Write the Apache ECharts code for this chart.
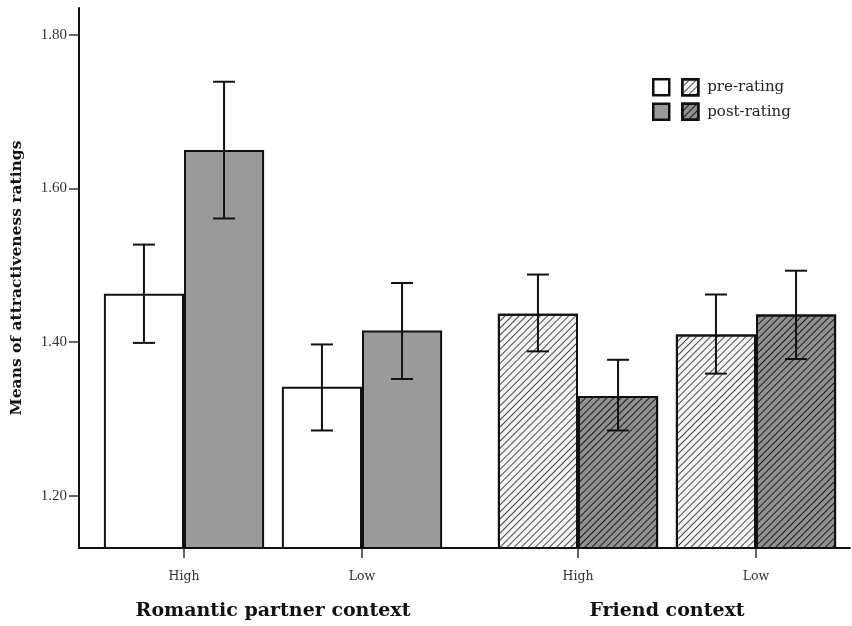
<!DOCTYPE html>
<html>
<head>
<meta charset="utf-8">
<script src="https://cdn.jsdelivr.net/npm/echarts@6/dist/echarts.min.js"></script>
<style>html,body{margin:0;padding:0;background:#fff}#c{width:852px;height:626px}</style>
</head>
<body>
<div id="c"></div>
<script>
// ---- data ----
var categories = ['High', 'Low'];
var groupNames = ['Romantic partner context', 'Friend context'];
var yTicks = [1.2, 1.4, 1.6, 1.8];
var romanticPre = [1.463, 1.342];
var romanticPreErr = [[1.399, 1.527], [1.285, 1.397]];
var romanticPost = [1.650, 1.415];
var romanticPostErr = [[1.561, 1.739], [1.352, 1.477]];
var friendPre = [1.437, 1.410];
var friendPreErr = [[1.388, 1.488], [1.359, 1.462]];
var friendPost = [1.330, 1.436];
var friendPostErr = [[1.285, 1.377], [1.378, 1.493]];

var SERIF = '"Liberation Serif", "Times New Roman", serif';
var WIDE = '"DejaVu Serif", serif';
var Y_MIN = 1.132, Y_MAX = 1.835;

function hatch(col) {
  return {
    symbol: 'rect', symbolSize: 1,
    color: col,
    dashArrayX: [1, 0], dashArrayY: [1, 3.2],
    rotation: -Math.PI / 4
  };
}

function errSeries(errs, side, axisIdx) {
  return {
    type: 'custom',
    xAxisIndex: axisIdx, yAxisIndex: axisIdx,
    silent: true, z: 10,
    data: errs.map(function (e, i) { return [i, e[0], e[1]]; }),
    encode: { x: 0, y: [1, 2] },
    renderItem: function (params, api) {
      var band = api.size([1, 0])[0];
      var off = side * band * 0.225;
      var lo = api.coord([api.value(0), api.value(1)]);
      var hi = api.coord([api.value(0), api.value(2)]);
      var x = lo[0] + off, cap = 11;
      var st = { stroke: '#111', lineWidth: 2 };
      return {
        type: 'group', children: [
          { type: 'line', shape: { x1: x, y1: lo[1], x2: x, y2: hi[1] }, style: st },
          { type: 'line', shape: { x1: x - cap, y1: lo[1], x2: x + cap, y2: lo[1] }, style: st },
          { type: 'line', shape: { x1: x - cap, y1: hi[1], x2: x + cap, y2: hi[1] }, style: st }
        ]
      };
    }
  };
}

function xCat(gridIndex, name) {
  return {
    type: 'category', gridIndex: gridIndex, data: categories,
    axisLine: { show: false },
    axisTick: { show: true, alignWithLabel: true, length: 10, inside: false,
      lineStyle: { color: '#333', width: 1.5 } },
    axisLabel: { margin: 22, fontFamily: WIDE, fontSize: 12.5, color: '#333' },
    name: name, nameLocation: 'middle', nameGap: 54,
    nameTextStyle: { fontFamily: WIDE, fontSize: 19, fontWeight: 'bold', color: '#111' }
  };
}

var barBase = { type: 'bar', barGap: '0%', barCategoryGap: '10%' };
var borderSt = { borderColor: '#111', borderWidth: 2 };

var option = {
  animation: false,
  backgroundColor: '#fff',
  grid: [
    { left: 79, right: 2, top: 8, bottom: 78, outerBoundsMode: 'none', containLabel: false },
    { left: 95, width: 356, top: 8, bottom: 78, outerBoundsMode: 'none', containLabel: false },
    { left: 489, width: 356, top: 8, bottom: 78, outerBoundsMode: 'none', containLabel: false }
  ],
  xAxis: [
    { type: 'value', gridIndex: 0, min: 0, max: 1,
      axisLine: { show: true, onZero: false, lineStyle: { color: '#111', width: 2 } },
      axisTick: { show: false }, axisLabel: { show: false }, splitLine: { show: false } },
    xCat(1, groupNames[0]),
    xCat(2, groupNames[1])
  ],
  yAxis: [
    { type: 'value', gridIndex: 0, min: 0, max: 1, show: false },
    { type: 'value', gridIndex: 1, min: Y_MIN, max: Y_MAX, offset: 16,
      axisLine: { show: true, lineStyle: { color: '#111', width: 2 } },
      axisTick: { show: true, length: 10, customValues: yTicks, lineStyle: { color: '#333', width: 1.5 } },
      axisLabel: { customValues: yTicks, margin: 12, fontFamily: SERIF, fontSize: 15, color: '#333',
        formatter: function (v) { return v.toFixed(2); } },
      splitLine: { show: false },
      name: 'Means of attractiveness ratings', nameLocation: 'middle', nameGap: 54,
      nameTextStyle: { fontFamily: WIDE, fontSize: 15.5, fontWeight: 'bold', color: '#111' } },
    { type: 'value', gridIndex: 2, min: Y_MIN, max: Y_MAX, show: false }
  ],
  legend: [
    { left: 652, top: 78, padding: 0, orient: 'vertical', itemWidth: 16, itemHeight: 16, itemGap: 6,
      selectedMode: false, icon: 'rect', data: ['Romantic pre', 'Romantic post'],
      itemStyle: { borderColor: '#111', borderWidth: 2.5 },
      formatter: function () { return ''; }, textStyle: { fontSize: 1 } },
    { left: 681, top: 78, padding: 0, orient: 'vertical', itemWidth: 16, itemHeight: 16, itemGap: 6,
      selectedMode: false, icon: 'rect', data: ['Friend pre', 'Friend post'],
      itemStyle: { borderColor: '#111', borderWidth: 2.5 },
      formatter: function (n) { return n === 'Friend pre' ? 'pre-rating' : 'post-rating'; },
      textStyle: { fontFamily: WIDE, fontSize: 15, color: '#222', padding: [0, 0, 0, 4] } }
  ],
  series: [
    Object.assign({}, barBase, { name: 'Romantic pre', xAxisIndex: 1, yAxisIndex: 1, data: romanticPre,
      itemStyle: Object.assign({ color: '#ffffff' }, borderSt) }),
    Object.assign({}, barBase, { name: 'Romantic post', xAxisIndex: 1, yAxisIndex: 1, data: romanticPost,
      itemStyle: Object.assign({ color: '#9a9a9a' }, borderSt) }),
    Object.assign({}, barBase, { name: 'Friend pre', xAxisIndex: 2, yAxisIndex: 2, data: friendPre,
      itemStyle: Object.assign({ color: '#f4f4f4', decal: hatch('#4a4a4a') }, borderSt) }),
    Object.assign({}, barBase, { name: 'Friend post', xAxisIndex: 2, yAxisIndex: 2, data: friendPost,
      itemStyle: Object.assign({ color: '#909090', decal: hatch('#1e1e1e') }, borderSt) }),
    errSeries(romanticPreErr, -1, 1),
    errSeries(romanticPostErr, 1, 1),
    errSeries(friendPreErr, -1, 2),
    errSeries(friendPostErr, 1, 2)
  ]
};

var chart = echarts.init(document.getElementById('c'), null, { renderer: 'canvas' });
chart.setOption(option);
</script>
</body>
</html>
